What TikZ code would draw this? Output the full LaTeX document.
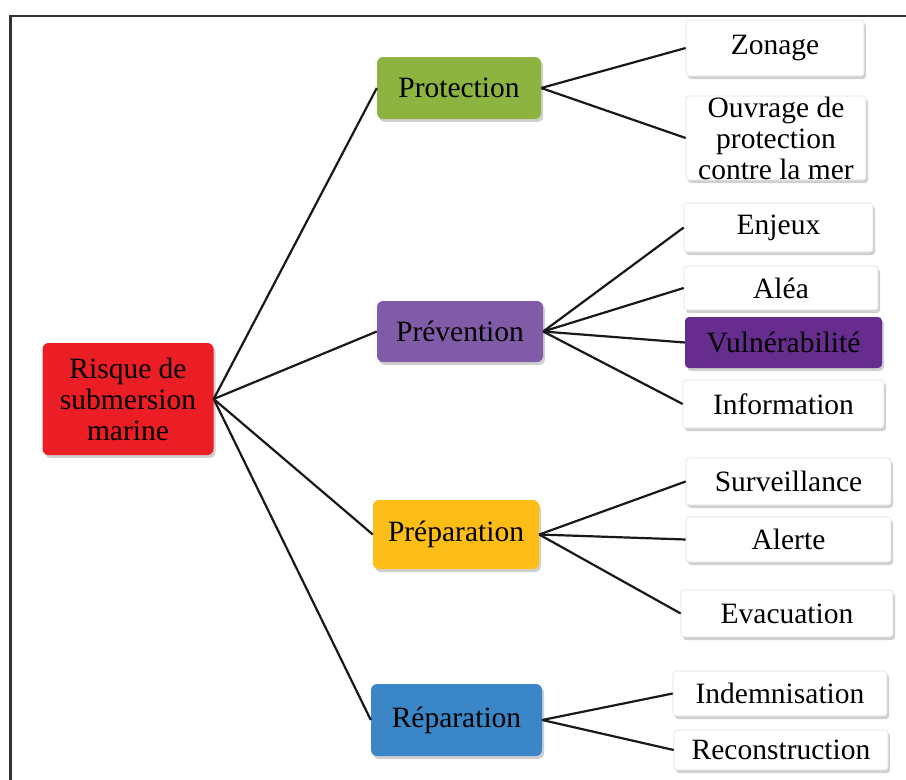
\documentclass[tikz,border=0pt]{standalone}
\usepackage{fontspec}
\setmainfont{Liberation Serif}
\usetikzlibrary{shadows}
\definecolor{rootred}{RGB}{234,30,36}
\definecolor{protgreen}{RGB}{141,180,64}
\definecolor{prevpurple}{RGB}{128,92,168}
\definecolor{vulnpurple}{RGB}{102,44,142}
\definecolor{prepyellow}{RGB}{251,189,22}
\definecolor{repblue}{RGB}{58,134,198}
\definecolor{framegray}{RGB}{50,50,50}
\tikzset{
  box/.style={rectangle, rounded corners=6pt, inner sep=0pt, align=center,
    font=\fontsize{29.5}{31}\selectfont, text=black,
    drop shadow={shadow xshift=2pt, shadow yshift=-3pt, opacity=0.3, fill=black!60}},
  mainbox/.style={box, fill=#1},
  leafbox/.style={box, rounded corners=3pt, fill=white, draw=black!12, line width=0.6pt},
  link/.style={draw=black!90, line width=2.2pt}
}
\begin{document}
\begin{tikzpicture}[x=1pt,y=-1pt]
  \useasboundingbox (0,0) rectangle (906,780);
  \fill[white] (0,0) rectangle (906,780);
  % open frame: left and top edges
  \draw[framegray, line width=2.2pt] (10.5,781) -- (10.5,16) -- (907,16);

  % root and category boxes
  \node[mainbox=rootred, minimum width=171pt, minimum height=112pt] (root) at (128,399)
    {Risque de\\submersion\\marine};
  \node[mainbox=protgreen, minimum width=164pt, minimum height=62pt] (prot) at (459,88) {Protection};
  \node[mainbox=prevpurple, minimum width=166pt, minimum height=61pt] (prev) at (460,331.5) {Prévention};
  \node[mainbox=prepyellow, minimum width=166pt, minimum height=69pt] (prep) at (456,534.5) {Préparation};
  \node[mainbox=repblue, minimum width=171pt, minimum height=72pt] (rep) at (456.5,720) {Réparation};

  % leaf boxes
  \node[leafbox, minimum width=178pt, minimum height=56pt] (zon) at (775,48) {Zonage};
  \node[leafbox, minimum width=180pt, minimum height=84pt] (ouv) at (776,138)
    {Ouvrage de\\protection\\contre la mer};
  \node[leafbox, minimum width=189pt, minimum height=49pt] (enj) at (778.5,227.5) {Enjeux};
  \node[leafbox, minimum width=194pt, minimum height=44pt] (ale) at (781,288) {Aléa};
  \node[box, rounded corners=4pt, fill=vulnpurple, minimum width=197pt, minimum height=51pt] (vul) at (783.5,342.5) {Vulnérabilité};
  \node[leafbox, minimum width=201pt, minimum height=48pt] (inf) at (783.5,404) {Information};
  \node[leafbox, minimum width=205pt, minimum height=47pt] (sur) at (788.5,481.5) {Surveillance};
  \node[leafbox, minimum width=205pt, minimum height=45pt] (ale2) at (788.5,539.5) {Alerte};
  \node[leafbox, minimum width=212pt, minimum height=47pt] (eva) at (787,613.5) {Evacuation};
  \node[leafbox, minimum width=214pt, minimum height=45pt] (ind) at (780,693.5) {Indemnisation};
  \node[leafbox, minimum width=214pt, minimum height=40pt] (rec) at (781,750) {Reconstruction};

  % connectors
  \foreach \c in {prot,prev,prep,rep}
    \draw[link] (root.east) -- (\c.west);
  \foreach \c in {zon,ouv}
    \draw[link] (prot.east) -- (\c.west);
  \foreach \c in {enj,ale,vul,inf}
    \draw[link] (prev.east) -- (\c.west);
  \foreach \c in {sur,ale2,eva}
    \draw[link] (prep.east) -- (\c.west);
  \foreach \c in {ind,rec}
    \draw[link] (rep.east) -- (\c.west);
\end{tikzpicture}
\end{document}
